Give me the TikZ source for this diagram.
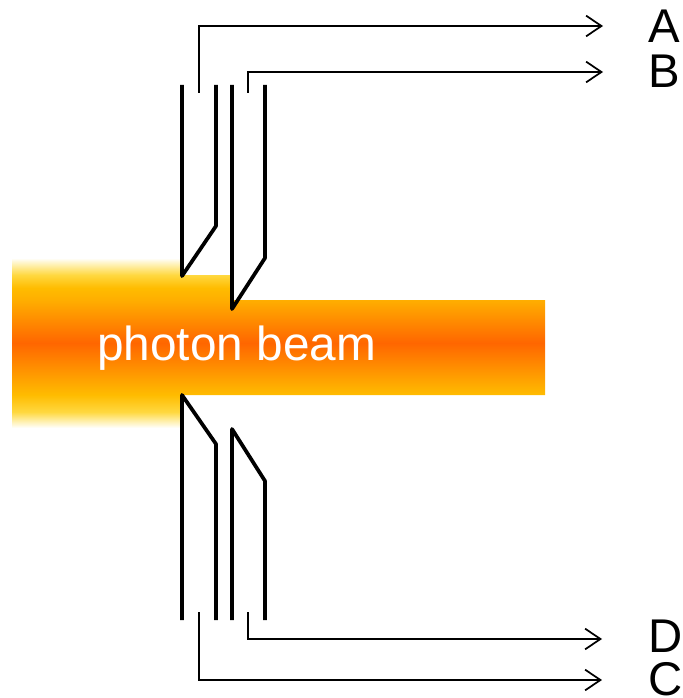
\documentclass[tikz,border=0pt]{standalone}
\usepackage{fontspec}
\setmainfont{Liberation Sans}
\usetikzlibrary{arrows.meta}
\definecolor{bA}{HTML}{FFF2B8}
\definecolor{bB}{HTML}{FFD840}
\definecolor{bC}{HTML}{FFBC00}
\definecolor{bD}{HTML}{FF6600}
\definecolor{bE}{HTML}{FFAE00}
\pgfdeclareverticalshading{beamshade}{100bp}{
  color(0bp)=(white); color(25bp)=(white); color(26.76bp)=(bA); color(29.7bp)=(bB);
  color(34.7bp)=(bC); color(50bp)=(bD); color(62.65bp)=(bE); color(66.2bp)=(bC);
  color(70bp)=(bB); color(73.24bp)=(bA); color(75bp)=(white); color(100bp)=(white)}
\tikzset{
  electrode/.style={line width=2.8pt,line cap=butt,line join=round},
  lead/.style={line width=1.3pt,line join=miter,-{Straight Barb[length=11.5pt,width=15.5pt,line width=1.3pt]}},
  chan/.style={anchor=base west,font=\fontsize{35.5pt}{36pt}\selectfont,inner sep=0pt,text=black},
  beamlabel/.style={anchor=base west,font=\fontsize{35.8pt}{36pt}\selectfont,inner sep=0pt,text=white}
}
\begin{document}
\begin{tikzpicture}[x=0.75pt,y=-0.75pt]
\useasboundingbox (0,0) rectangle (682,698);
% beam
\path[shading=beamshade] (12,258) -- (182,258) -- (182,275) -- (232,275) -- (232,300) -- (545,300)
  -- (545,395) -- (182,395) -- (182,428) -- (12,428) -- cycle;
\node[beamlabel] (beam) at (97,360) {photon beam};
% electrodes
\draw[electrode] (182,85) -- (182,276) -- (216,226) -- (216,85);
\draw[electrode] (232,85) -- (232,309) -- (265,258) -- (265,85);
\draw[electrode] (182,620) -- (182,395) -- (216,444) -- (216,620);
\draw[electrode] (232,620) -- (232,429) -- (265,481) -- (265,620);
% labels
\node[chan] (A) at (648,43) {A};
\node[chan] (B) at (648,88) {B};
\node[chan] (D) at (648,652) {D};
\node[chan] (C) at (648,695) {C};
% lead ends
\coordinate (a0) at (199,93);
\coordinate (a1) at (603,26);
\coordinate (b0) at (248,93);
\coordinate (b1) at (603,72);
\coordinate (d0) at (248,612);
\coordinate (d1) at (602,639);
\coordinate (c0) at (199,612);
\coordinate (c1) at (602,680);
\draw[lead] (a0) |- (a1);
\draw[lead] (b0) |- (b1);
\draw[lead] (d0) |- (d1);
\draw[lead] (c0) |- (c1);
\end{tikzpicture}
\end{document}
